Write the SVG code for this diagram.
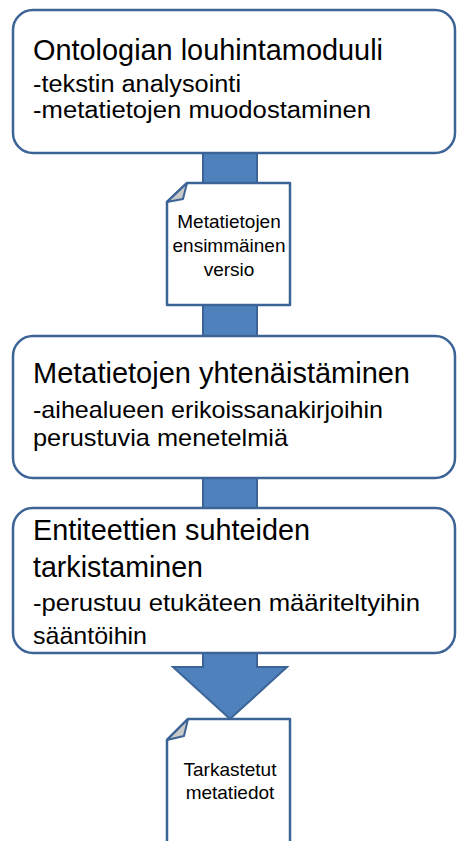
<svg xmlns="http://www.w3.org/2000/svg" width="457" height="841" viewBox="0 0 457 841">
<style>
.box{fill:#fff;stroke:#3C6496;stroke-width:2.5}
.bar{fill:#4F81BD;stroke:#3C6496;stroke-width:2}
.doc{fill:#fff;stroke:#3C6496;stroke-width:2.5;stroke-linejoin:round}
.fold{fill:#C9C9C9;stroke:#3C6496;stroke-width:2;stroke-linejoin:round}
text{font-family:"Liberation Sans",Arial,sans-serif;fill:#000}
.t{font-size:29px}
.s{font-size:24px}
.s1{font-size:23px}
.d{font-size:19px;text-anchor:middle}
</style>
<rect width="457" height="841" fill="#fff"/>
<g id="connectors">
<rect class="bar" x="203" y="153" width="54" height="183"/>
<rect class="bar" x="203" y="478" width="54" height="30"/>
<path class="bar" d="M203,653 L257,653 L257,667 L287,667 L230,719 L173,667 L203,667 Z"/>
</g>
<g id="box1">
<rect class="box" x="13" y="10" width="442" height="143" rx="20"/>
<text class="t" x="33" y="60" textLength="350" lengthAdjust="spacingAndGlyphs">Ontologian louhintamoduuli</text>
<text class="s1" x="33" y="92" textLength="208" lengthAdjust="spacingAndGlyphs">-tekstin analysointi</text>
<text class="s1" x="33" y="118" textLength="338" lengthAdjust="spacingAndGlyphs">-metatietojen muodostaminen</text>
</g>
<g id="doc1">
<path class="doc" d="M187,183 L290,183 L290,305 L167,305 L167,202 Z"/>
<path class="fold" d="M187,183 L167,202 L183,199 Z"/>
<text class="d" x="229" y="228">Metatietojen</text>
<text class="d" x="229" y="252">ensimmäinen</text>
<text class="d" x="229" y="276">versio</text>
</g>
<g id="box2">
<rect class="box" x="13" y="336" width="442" height="142" rx="20"/>
<text class="t" x="33" y="383" textLength="377" lengthAdjust="spacingAndGlyphs">Metatietojen yhtenäistäminen</text>
<text class="s" x="33" y="418" textLength="350" lengthAdjust="spacingAndGlyphs">-aihealueen erikoissanakirjoihin</text>
<text class="s" x="33" y="446" textLength="255" lengthAdjust="spacingAndGlyphs">perustuvia menetelmiä</text>
</g>
<g id="box3">
<rect class="box" x="13" y="508" width="442" height="145" rx="20"/>
<text class="t" x="33" y="540" textLength="277" lengthAdjust="spacingAndGlyphs">Entiteettien suhteiden</text>
<text class="t" x="33" y="577" textLength="170" lengthAdjust="spacingAndGlyphs">tarkistaminen</text>
<text class="s" x="33" y="611" textLength="387" lengthAdjust="spacingAndGlyphs">-perustuu etukäteen määriteltyihin</text>
<text class="s" x="33" y="644" textLength="114" lengthAdjust="spacingAndGlyphs">sääntöihin</text>
</g>
<g id="doc2">
<path class="doc" d="M188,719 L290,719 L290,850 L167,850 L167,740 Z"/>
<path class="fold" d="M188,719 L167,740 L184,736 Z"/>
<text class="d" x="230" y="776">Tarkastetut</text>
<text class="d" x="230" y="799">metatiedot</text>
</g>
</svg>
